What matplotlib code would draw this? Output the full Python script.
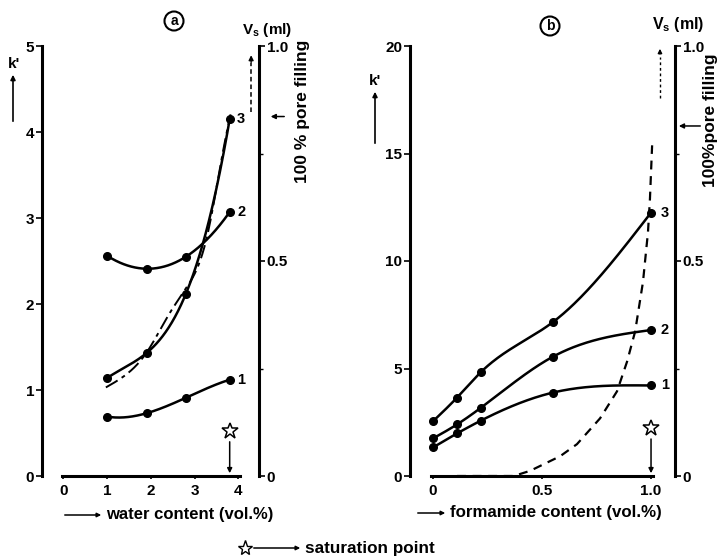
import numpy as np
import matplotlib
matplotlib.use("Agg")
import matplotlib.pyplot as plt
from matplotlib.patches import FancyArrowPatch

plt.rcParams["font.family"] = ["Liberation Sans", "DejaVu Sans"]
plt.rcParams["font.weight"] = "bold"
plt.rcParams["mathtext.fontset"] = "custom"
plt.rcParams["mathtext.rm"] = "Liberation Sans:bold"
plt.rcParams["mathtext.bf"] = "Liberation Sans:bold"

# ---- panel (a): water content ----
water = [1.0, 1.9, 2.8, 3.8]
k_water_1 = [0.69, 0.73, 0.91, 1.12]
k_water_2 = [2.56, 2.41, 2.55, 3.07]
k_water_3 = [1.14, 1.43, 2.12, 4.15]
vs_water_x = [0.97, 1.34, 1.9, 2.43, 2.82, 3.28, 3.70, 3.82]
vs_water = [0.206, 0.229, 0.287, 0.379, 0.439, 0.556, 0.783, 0.841]
sat_water = 3.8

# ---- panel (b): formamide content ----
form = [0.0, 0.11, 0.22, 0.55, 1.0]
k_form_1 = [1.33, 1.98, 2.58, 3.88, 4.21]
k_form_2 = [1.75, 2.40, 3.18, 5.55, 6.79]
k_form_3 = [2.55, 3.65, 4.84, 7.16, 12.25]
vs_form_x = [0.11, 0.20, 0.30, 0.37, 0.445, 0.583, 0.66, 0.766, 0.844,
             0.89, 0.927, 0.963, 0.986, 0.995, 1.005]
vs_form = [0.0, 0.0, 0.0, 0.0, 0.012, 0.046, 0.074, 0.134, 0.197,
           0.266, 0.336, 0.451, 0.567, 0.644, 0.769]
sat_form = 1.0

W, H = 720, 558


def natural_cubic(x, y, n=200):
    x = np.asarray(x, float)
    y = np.asarray(y, float)
    h = np.diff(x)
    m = len(x)
    A = np.zeros((m, m))
    r = np.zeros(m)
    A[0, 0] = 1
    A[-1, -1] = 1
    for i in range(1, m - 1):
        A[i, i - 1] = h[i - 1]
        A[i, i] = 2 * (h[i - 1] + h[i])
        A[i, i + 1] = h[i]
        r[i] = 6 * ((y[i + 1] - y[i]) / h[i] - (y[i] - y[i - 1]) / h[i - 1])
    M = np.linalg.solve(A, r)
    xs = np.linspace(x[0], x[-1], n)
    idx = np.clip(np.searchsorted(x, xs) - 1, 0, m - 2)
    x0, x1 = x[idx], x[idx + 1]
    hh = x1 - x0
    a = (x1 - xs) / hh
    b = (xs - x0) / hh
    ys = a * y[idx] + b * y[idx + 1] + ((a**3 - a) * M[idx] + (b**3 - b) * M[idx + 1]) * hh**2 / 6
    return xs, ys


def cubic_through(x, y, n=200):
    coef = np.polyfit(x, y, len(x) - 1)
    xs = np.linspace(min(x), max(x), n)
    return xs, np.polyval(coef, xs)


def fx(px):
    return px / W


def fy(py):
    return 1 - py / H


fig = plt.figure(figsize=(7.2, 5.58), dpi=100)
TICK_FS = 11


def make_panel(left_px, right_px, xlim, ylim, yticks, xticks, xticklabels, xbounds):
    ax = fig.add_axes([fx(left_px), fy(476), (right_px - left_px) / W, 430 / H])
    ax.set_xlim(*xlim)
    ax.set_ylim(*ylim)
    ax.patch.set_alpha(0)
    for s in ("top", "right"):
        ax.spines[s].set_visible(False)
    ax.spines["left"].set_linewidth(2.2)
    ax.spines["bottom"].set_linewidth(2.2)
    ax.spines["bottom"].set_bounds(*xbounds)
    ax.set_yticks(yticks)
    ax.set_yticklabels([str(t) for t in yticks])
    ax.set_xticks(xticks)
    ax.set_xticklabels(xticklabels)
    ax.tick_params(axis="y", direction="out", length=4, width=1.2, labelsize=TICK_FS, pad=1.5)
    ax.tick_params(axis="x", direction="out", length=2.5, width=1.2, labelsize=TICK_FS, pad=3)
    for lab in ax.get_xticklabels() + ax.get_yticklabels():
        lab.set_fontweight("bold")

    ar = ax.twinx()
    ar.set_ylim(0, 1)
    for s in ("top", "left", "bottom"):
        ar.spines[s].set_visible(False)
    ar.spines["right"].set_linewidth(2.2)
    ar.set_yticks([0, 0.5, 1.0])
    ar.set_yticklabels(["0", "0.5", "1.0"])
    ar.set_yticks([0.25, 0.75], minor=True)
    ar.tick_params(axis="y", which="major", direction="out", length=4, width=1.2,
                   labelsize=TICK_FS, pad=1.5)
    ar.tick_params(axis="y", which="minor", direction="out", length=3, width=1.0)
    for lab in ar.get_yticklabels():
        lab.set_fontweight("bold")
    return ax, ar


line_kw = dict(color="black", lw=1.8, solid_capstyle="round")
mark_kw = dict(color="black", marker="o", ms=5.5, ls="none")
head = dict(arrowstyle="-|>", color="black", lw=1.1, mutation_scale=7)

# ---------------- panel a ----------------
axa, ara = make_panel(42, 259, (-0.49, 4.47), (0, 5), [0, 1, 2, 3, 4, 5],
                      [0, 1, 2, 3, 4], ["0", "1", "2", "3", "4"], (-0.04, 4.04))

for ys in (k_water_1, k_water_2, k_water_3):
    xs_s, ys_s = cubic_through(water, ys)
    axa.plot(xs_s, ys_s, **line_kw)
    axa.plot(water, ys, **mark_kw)
for lab, ys in zip(("1", "2", "3"), (k_water_1, k_water_2, k_water_3)):
    axa.text(water[-1] + 0.17, ys[-1], lab, fontsize=10.5, fontweight="bold",
             va="center", ha="left")

xs_s, ys_s = natural_cubic(vs_water_x, vs_water)
ara.plot(xs_s, ys_s, color="black", lw=1.4, ls=(0, (7, 2.5, 2, 2.5)))

# dashed arrow continuing upward
ara.plot([4.29, 4.29], [0.846, 0.96], color="black", lw=1.1, ls=(0, (3, 2)))
ara.annotate("", xy=(4.29, 0.985), xytext=(4.29, 0.955),
             arrowprops=dict(arrowstyle="-|>", color="black", lw=1.0, mutation_scale=7))

# 100 % pore filling marker arrow
ara.annotate("", xy=(1.041, 0.836), xytext=(1.129, 0.836),
             xycoords=("axes fraction", "data"), textcoords=("axes fraction", "data"),
             arrowprops=head)

# saturation point
axa.plot([sat_water], [0.52], marker="*", ms=12, mfc="white", mec="black", mew=1.1,
         ls="none", clip_on=False)
axa.annotate("", xy=(sat_water, 0.0), xytext=(sat_water, 0.43), arrowprops=head)

# ---------------- panel b ----------------
axb, arb = make_panel(410, 675, (-0.106, 1.110), (0, 20), [0, 5, 10, 15, 20],
                      [0, 0.5, 1.0], ["0", "0.5", "1.0"], (-0.01, 1.01))

for ys in (k_form_1, k_form_2, k_form_3):
    xs_s, ys_s = natural_cubic(form, ys)
    axb.plot(xs_s, ys_s, **line_kw)
    axb.plot(form, ys, **mark_kw)
for lab, ys in zip(("1", "2", "3"), (k_form_1, k_form_2, k_form_3)):
    axb.text(form[-1] + 0.045, ys[-1], lab, fontsize=10.5, fontweight="bold",
             va="center", ha="left")

arb.plot(vs_form_x, vs_form, color="black", lw=1.6, ls=(0, (4, 3)), clip_on=False,
         zorder=5)

arb.plot([1.041, 1.041], [0.88, 0.975], color="black", lw=1.0, ls=(0, (2, 2)))
arb.annotate("", xy=(1.041, 1.0), xytext=(1.041, 0.975),
             arrowprops=dict(arrowstyle="-|>", color="black", lw=1.0, mutation_scale=6))

arb.annotate("", xy=(1.004, 0.814), xytext=(1.106, 0.814),
             xycoords=("axes fraction", "data"), textcoords=("axes fraction", "data"),
             arrowprops=head)

axb.plot([sat_form], [2.23], marker="*", ms=12, mfc="white", mec="black", mew=1.1,
         ls="none", clip_on=False)
axb.annotate("", xy=(sat_form, 0.0), xytext=(sat_form, 1.85), arrowprops=head)

# ---------------- annotations ----------------
circ = dict(boxstyle="circle,pad=0.18", fc="white", ec="black", lw=1.5)
fig.text(fx(174), fy(21), "a", fontsize=10, fontweight="bold", ha="center", va="center",
         bbox=circ)
fig.text(fx(550), fy(26), "b", fontsize=10, fontweight="bold", ha="center", va="center",
         bbox=circ)

fig.text(fx(267), fy(30), r"V$_\mathrm{s}$ (ml)", fontsize=11, ha="center", va="center")
fig.text(fx(678), fy(25), r"V$_\mathrm{s}$ (ml)", fontsize=11.5, ha="center", va="center")

fig.text(fx(302), fy(111), "100 % pore filling", fontsize=12.5, rotation=90,
         ha="center", va="center")
fig.text(fx(710), fy(120), "100%pore filling", fontsize=12.5, rotation=90,
         ha="center", va="center")

arrow_up = dict(arrowstyle="-|>", color="black", lw=1.2, mutation_scale=7)
fig.text(fx(14), fy(64), "k'", fontsize=11, ha="center", va="center")
fig.add_artist(FancyArrowPatch((fx(13), fy(124)), (fx(13), fy(72)),
                               transform=fig.transFigure, **arrow_up))
fig.text(fx(375), fy(81), "k'", fontsize=11, ha="center", va="center")
fig.add_artist(FancyArrowPatch((fx(375), fy(146)), (fx(375), fy(89)),
                               transform=fig.transFigure, **arrow_up))

arrow_r = dict(arrowstyle="-|>", color="black", lw=1.1, mutation_scale=6)
fig.add_artist(FancyArrowPatch((fx(62), fy(515)), (fx(104), fy(515)),
                               transform=fig.transFigure, **arrow_r))
fig.text(fx(106), fy(515), "water content (vol.%)", fontsize=12, ha="left", va="center")
fig.add_artist(FancyArrowPatch((fx(415), fy(513)), (fx(448), fy(513)),
                               transform=fig.transFigure, **arrow_r))
fig.text(fx(450), fy(513), "formamide content (vol.%)", fontsize=12.2, ha="left",
         va="center")

fig.lines.append(plt.Line2D([fx(245)], [fy(548)], marker="*", ms=11, mfc="white",
                            mec="black", mew=1.0, transform=fig.transFigure))
fig.add_artist(FancyArrowPatch((fx(251), fy(548)), (fx(303), fy(548)),
                               transform=fig.transFigure, **arrow_r))
fig.text(fx(305), fy(548), "saturation point", fontsize=12.3, ha="left", va="center")

fig.savefig("out.png", dpi=100)
